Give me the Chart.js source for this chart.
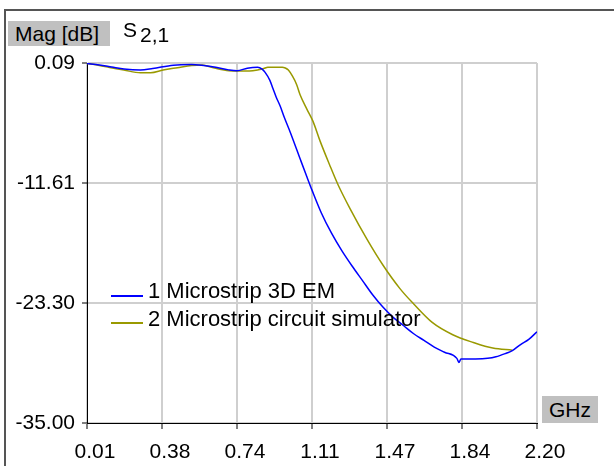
<!DOCTYPE html>
<html>
<head>
<meta charset="utf-8">
<script src="https://cdn.jsdelivr.net/npm/chart.js@4"></script>
<style>
  body { margin: 0; background: #fff; font-family: "Liberation Sans", Arial, sans-serif; }
  #wrap { position: relative; width: 614px; height: 466px; overflow: hidden; }
  #frame { position: absolute; left: 4px; top: 9px; width: 700px; height: 600px;
           border-left: 2px solid #555; border-top: 2px solid #555; }
  #c { position: absolute; left: 0; top: 0; }
  .txt { position: absolute; font-size: 21px; line-height: 21px; color: #000; white-space: nowrap; }
  .leg { position: absolute; font-size: 22px; line-height: 22px; color: #000; white-space: nowrap; }
  .box { position: absolute; background: #c0c0c0; font-size: 21px; color: #000; white-space: nowrap; }
  .key { position: absolute; height: 1.5px; width: 32px; }
</style>
</head>
<body>
<div id="wrap">
  <div id="frame"></div>
  <canvas id="c" width="614" height="466"></canvas>
  <div class="box" style="left:8px;top:21px;width:95px;height:25px;line-height:25px;padding-left:7px;">Mag [dB]</div>
  <div class="txt" style="left:123px;top:19px;">S<span style="position:relative;top:5px;margin-left:3px;">2,1</span></div>
  <div class="box" style="left:542px;top:396px;width:56px;height:27px;line-height:27px;text-align:center;">GHz</div>
  <div class="key" style="left:111px;top:295px;background:#0000ff;"></div>
  <div class="key" style="left:111px;top:322px;background:#999900;"></div>
  <div class="leg" style="left:148px;top:280px;">1 Microstrip 3D EM</div>
  <div class="leg" style="left:148px;top:308px;">2 Microstrip circuit simulator</div>
</div>
<script>
// S21 magnitude, frequency in GHz
var emFreq = [0.01, 0.07, 0.13, 0.19, 0.27, 0.33, 0.43, 0.52, 0.62, 0.70, 0.74, 0.79, 0.84, 0.862, 0.876, 0.90,
  0.915, 0.93, 0.95, 0.97, 1.00, 1.05, 1.08, 1.105, 1.15, 1.20, 1.25, 1.30, 1.35, 1.40, 1.45, 1.50,
  1.55, 1.60, 1.65, 1.70, 1.75, 1.81, 1.82, 1.83, 1.90, 1.96, 2.00, 2.05, 2.08, 2.12, 2.16, 2.20];
var emMag = [0.05, -0.1, -0.3, -0.5, -0.6, -0.45, -0.12, -0.06, -0.28, -0.58, -0.66, -0.42, -0.33, -0.5, -0.8, -1.6,
  -2.4, -3.2, -4.1, -5.2, -6.7, -9.4, -11.0, -12.3, -14.5, -16.5, -18.2, -19.7, -21.1, -22.5, -23.7, -24.7,
  -25.5, -26.3, -26.95, -27.6, -28.1, -28.7, -29.1, -28.75, -28.75, -28.7, -28.55, -28.2, -27.95, -27.35, -26.85, -26.1];

var simFreq = [0.01, 0.07, 0.12, 0.19, 0.27, 0.32, 0.38, 0.45, 0.52, 0.57, 0.63, 0.70, 0.80, 0.84, 0.87, 0.89,
  0.96, 0.975, 0.99, 1.01, 1.03, 1.047, 1.08, 1.11, 1.144, 1.19, 1.23, 1.29, 1.373, 1.45, 1.533, 1.60,
  1.69, 1.79, 1.89, 1.985, 2.08];
var simMag = [0.05, -0.15, -0.35, -0.6, -0.86, -0.86, -0.6, -0.37, -0.15, -0.1, -0.4, -0.66, -0.7, -0.6, -0.45, -0.33,
  -0.33, -0.4, -0.6, -1.2, -2.0, -3.0, -4.4, -5.6, -7.5, -9.8, -11.7, -14.1, -17.1, -19.6, -21.9, -23.4,
  -25.2, -26.4, -27.15, -27.7, -27.9];

var xTickLabels = ['0.01', '0.38', '0.74', '1.11', '1.47', '1.84', '2.20'];
var yTickLabels = ['-35.00', '-23.30', '-11.61', '0.09'];
var xMin = 0.01, xMax = 2.20, yMin = -35.0, yMax = 0.09;

Chart.defaults.font.family = '"Liberation Sans", Arial, sans-serif';
Chart.defaults.font.size = 21;
Chart.defaults.color = '#000';

new Chart(document.getElementById('c'), {
  type: 'line',
  data: {
    datasets: [
      {
        label: '1 Microstrip 3D EM',
        data: emFreq.map((f, i) => ({ x: f, y: emMag[i] })),
        borderColor: '#0000ff',
        borderWidth: 1.5,
        pointRadius: 0,
        cubicInterpolationMode: 'monotone'
      },
      {
        label: '2 Microstrip circuit simulator',
        data: simFreq.map((f, i) => ({ x: f, y: simMag[i] })),
        borderColor: '#999900',
        borderWidth: 1.5,
        pointRadius: 0,
        cubicInterpolationMode: 'monotone'
      }
    ]
  },
  options: {
    responsive: false,
    devicePixelRatio: 1,
    animation: false,
    layout: { padding: { top: 63, right: 77, left: 0, bottom: 0 } },
    plugins: { legend: { display: false }, tooltip: { enabled: false } },
    scales: {
      x: {
        type: 'linear',
        min: xMin,
        max: xMax,
        afterBuildTicks: s => {
          s.ticks = xTickLabels.map((t, i) => ({ value: xMin + i * (xMax - xMin) / (xTickLabels.length - 1) }));
        },
        afterFit: s => { s.height = 43; },
        ticks: {
          callback: (v, i) => xTickLabels[i],
          padding: 11,
          labelOffset: 8,
          maxRotation: 0
        },
        grid: { color: '#cfcfcf', lineWidth: 2, tickLength: 6, tickColor: '#000', tickWidth: 1 },
        border: { color: '#000', width: 1 }
      },
      y: {
        min: yMin,
        max: yMax,
        afterBuildTicks: s => {
          s.ticks = yTickLabels.map((t, i) => ({ value: yMin + i * (yMax - yMin) / (yTickLabels.length - 1) }));
        },
        afterFit: s => { s.width = 87; },
        ticks: {
          callback: (v, i) => yTickLabels[i],
          padding: 7
        },
        grid: { color: '#cfcfcf', lineWidth: 2, tickLength: 5, tickColor: '#000', tickWidth: 1 },
        border: { color: '#000', width: 1 }
      }
    }
  }
});
</script>
</body>
</html>
